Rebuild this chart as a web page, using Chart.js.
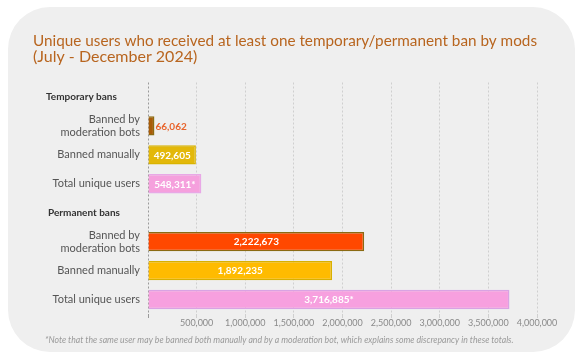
<!DOCTYPE html>
<html>
<head>
<meta charset="utf-8">
<script src="https://cdn.jsdelivr.net/npm/chart.js@4/dist/chart.umd.min.js"></script>
<style>
  html, body { margin: 0; padding: 0; background: #ffffff; }
  #wrap { position: relative; width: 582px; height: 359px; overflow: hidden; }
  #panel { position: absolute; left: 8px; top: 7px; width: 567px; height: 345px; border-radius: 42px; background: #efefef; }
  canvas { position: absolute; left: 0; top: 0; }
</style>
</head>
<body>
<div id="wrap">
  <div id="panel"></div>
  <canvas id="c" width="582" height="359"></canvas>
</div>
<script>
const titleLines = ['Unique users who received at least one temporary/permanent ban by mods', '(July - December 2024)'];
const categories = ['Temporary bans', ['Banned by', 'moderation bots'], 'Banned manually', 'Total unique users',
                    'Permanent bans', ['Banned by', 'moderation bots'], 'Banned manually', 'Total unique users'];
const isHeader = [true, false, false, false, true, false, false, false];
const values = [null, 66062, 492605, 548311, null, 2222673, 1892235, 3716885];
const labelSuffix = ['', '', '', '*', '', '', '', '*'];
const barColors = ['rgba(0,0,0,0)', '#a85c08', '#e3b80a', '#f5a0dd', 'rgba(0,0,0,0)', '#ff4800', '#ffbb00', '#f7a0df'];
const barBorders = ['rgba(0,0,0,0)', '#8c6a10', '#d9b400', '#e8a8e6', 'rgba(0,0,0,0)', '#8a6a12', '#d8b000', '#d9a3e3'];
const xTicks = [0, 500000, 1000000, 1500000, 2000000, 2500000, 3000000, 3500000, 4000000];
const footnote = '*Note that the same user may be banned both manually and by a moderation bot, which explains some discrepancy in these totals.';

const fmt = v => v.toLocaleString('en-US');

const extras = {
  id: 'extras',
  afterDatasetsDraw(chart) {
    const ctx = chart.ctx;
    const meta = chart.getDatasetMeta(0);
    const y = chart.scales.y;
    ctx.save();
    ctx.font = 'bold 10px Lato';
    ctx.textBaseline = 'middle';
    meta.data.forEach((bar, i) => {
      if (values[i] == null) return;
      const txt = fmt(values[i]) + labelSuffix[i];
      const w = ctx.measureText(txt).width;
      const left = bar.base, right = bar.x;
      if (right - left > w + 4) {
        ctx.fillStyle = '#ffffff';
        ctx.textAlign = 'center';
        ctx.fillText(txt, (left + right) / 2, bar.y + 0.5);
      } else {
        ctx.fillStyle = '#e8642c';
        ctx.textAlign = 'left';
        ctx.fillText(txt, right + 1, bar.y + 0.5);
      }
    });
    ctx.font = 'bold 10px Lato';
    ctx.fillStyle = '#333333';
    ctx.textAlign = 'left';
    categories.forEach((c, i) => {
      if (!isHeader[i]) return;
      ctx.fillText(c, y.left + 13 + (i > 0 ? 2 : 0), y.getPixelForValue(i));
    });
    ctx.font = 'italic 8.7px Lato';
    ctx.fillStyle = '#9a9a9a';
    ctx.textAlign = 'left';
    ctx.fillText(footnote, 45, 340);
    ctx.restore();
  }
};

new Chart(document.getElementById('c'), {
  type: 'bar',
  data: {
    labels: categories,
    datasets: [{
      data: values,
      backgroundColor: barColors,
      borderColor: barBorders,
      borderWidth: 1.5,
      borderSkipped: 'start',
      barPercentage: 0.67,
      categoryPercentage: 1.0
    }]
  },
  options: {
    indexAxis: 'y',
    responsive: false,
    animation: false,
    devicePixelRatio: 1,
    layout: { padding: { left: 33, right: 45, top: 0, bottom: 25 } },
    plugins: {
      legend: { display: false },
      tooltip: { enabled: false },
      title: {
        display: true,
        text: titleLines,
        align: 'start',
        color: '#b8651f',
        font: { family: 'Lato', size: 16, weight: 'normal', lineHeight: 1.0 },
        padding: { top: 33, bottom: 17.5 }
      }
    },
    scales: {
      x: {
        type: 'linear',
        min: 0,
        max: 4000000,
        afterBuildTicks: s => { s.ticks = xTicks.map(v => ({ value: v })); },
        afterFit: s => { s.height = 20; },
        grid: {
          color: ctx => ctx.index === 0 ? '#9a9a9a' : '#cfcfcf',
          lineWidth: 1,
          tickLength: 4,
          drawTicks: true
        },
        border: { display: false, dash: [2, 2] },
        ticks: {
          color: '#8a8a8a',
          font: { family: 'Lato', size: 9 },
          padding: 0,
          autoSkip: false,
          maxRotation: 0,
          callback: v => v === 0 ? '' : fmt(v)
        }
      },
      y: {
        type: 'category',
        afterFit: s => { s.width = 115; },
        grid: { display: false, drawTicks: false },
        border: { display: false },
        ticks: {
          color: '#555555',
          font: { family: 'Lato', size: 11, lineHeight: 1.15 },
          padding: 8,
          autoSkip: false,
          callback: function (v, i) { return isHeader[i] ? '' : categories[i]; }
        }
      }
    }
  },
  plugins: [extras]
});
</script>
</body>
</html>
